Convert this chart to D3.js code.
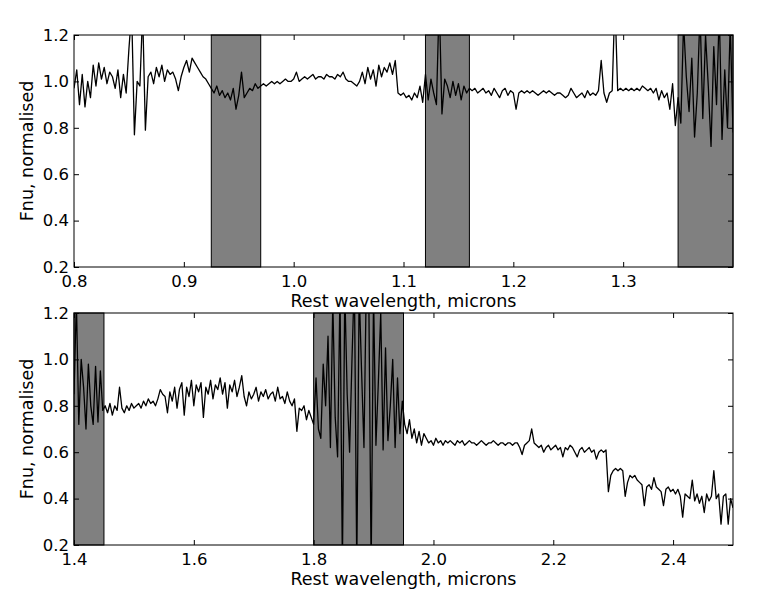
<!DOCTYPE html>
<html>
<head>
<meta charset="utf-8">
<script src="https://cdn.jsdelivr.net/npm/d3@7"></script>
<style>
body { margin: 0; background: #fff; }
text { font-family: "DejaVu Sans", sans-serif; }
</style>
</head>
<body>
<svg id="chart" width="770" height="607"></svg>
<script>
// spectrum values, on a regular wavelength grid
var topStart = 0.8, topStep = 0.0025;
var topFlux = [
0.97,1.05,0.90,1.03,0.89,1.00,0.93,1.07,0.98,1.08,
1.01,1.06,0.99,1.04,1.02,0.97,1.05,0.93,1.03,0.95,
1.14,1.30,0.77,1.00,0.98,1.30,0.79,1.02,1.04,0.99,
1.06,1.02,1.07,1.00,1.05,1.03,1.04,1.01,0.96,1.02,
1.06,1.09,1.04,1.10,1.08,1.06,1.04,1.02,1.01,0.99,
0.97,0.95,0.98,0.94,0.96,0.93,0.95,0.92,0.97,0.88,
0.94,1.04,0.93,0.95,0.97,0.96,0.99,0.97,0.98,0.99,
0.98,0.99,1.00,0.99,1.00,0.99,1.00,1.01,1.00,1.00,
1.01,1.04,1.00,1.01,1.02,1.01,1.02,1.03,1.01,1.02,
1.02,1.01,1.03,1.02,1.02,1.01,1.03,1.02,1.04,1.01,
1.00,1.00,0.99,0.98,1.00,1.04,0.99,1.06,1.01,1.05,
0.98,1.07,1.02,1.06,1.04,1.08,1.03,1.09,0.95,0.94,
0.95,0.93,0.94,0.92,0.95,0.93,0.98,0.91,1.03,0.92,
1.01,0.95,0.90,1.35,0.86,1.01,0.98,0.93,1.00,0.94,
0.99,0.92,0.98,0.95,0.97,0.96,0.97,0.95,0.96,0.97,
0.95,0.96,0.94,0.97,0.95,0.93,0.96,0.97,0.94,0.96,
0.95,0.88,0.95,0.96,0.95,0.96,0.95,0.96,0.95,0.94,
0.95,0.96,0.95,0.96,0.95,0.94,0.95,0.95,0.94,0.93,
0.94,0.97,0.95,0.93,0.94,0.95,0.93,0.96,0.94,0.95,
0.94,0.96,1.09,0.95,0.91,0.95,0.96,1.35,0.96,0.97,
0.96,0.97,0.96,0.97,0.96,0.97,0.96,0.98,0.97,0.96,
0.97,0.95,0.97,0.92,0.96,0.93,0.95,0.88,0.99,0.81,
0.93,0.82,1.25,1.02,0.87,1.10,0.76,0.95,1.30,0.84,
1.20,0.98,0.72,1.15,0.90,1.30,0.75,1.05,0.80,1.25,
0.78];

var bottomStart = 1.4, bottomStep = 0.004;
var bottomFlux = [
0.85,1.25,0.72,1.00,0.88,0.70,0.98,0.80,0.72,0.97,
0.73,0.95,0.78,0.80,0.77,0.81,0.76,0.80,0.78,0.88,
0.79,0.77,0.80,0.78,0.81,0.79,0.80,0.81,0.79,0.82,
0.80,0.83,0.81,0.82,0.80,0.83,0.87,0.85,0.84,0.77,
0.86,0.82,0.88,0.79,0.87,0.90,0.76,0.88,0.84,0.91,
0.80,0.89,0.86,0.90,0.75,0.88,0.85,0.91,0.83,0.89,
0.87,0.92,0.85,0.90,0.79,0.89,0.86,0.91,0.84,0.88,
0.93,0.84,0.80,0.86,0.83,0.85,0.88,0.82,0.86,0.84,
0.87,0.83,0.85,0.86,0.82,0.88,0.83,0.84,0.81,0.86,
0.82,0.80,0.83,0.69,0.79,0.78,0.80,0.74,0.78,0.75,
0.72,0.92,0.70,0.66,0.98,0.80,1.10,0.62,1.25,0.75,
0.58,1.30,0.10,1.30,0.85,0.60,1.00,1.35,0.10,1.30,
0.95,0.62,1.35,1.30,0.10,1.28,0.63,0.90,1.20,0.61,
1.05,0.65,0.80,1.00,0.62,0.92,0.68,0.82,0.72,0.68,
0.74,0.66,0.70,0.64,0.69,0.63,0.68,0.66,0.64,0.65,
0.63,0.66,0.64,0.65,0.63,0.65,0.64,0.65,0.64,0.63,
0.65,0.64,0.65,0.63,0.64,0.65,0.64,0.64,0.63,0.64,
0.65,0.64,0.63,0.64,0.64,0.65,0.64,0.63,0.64,0.64,
0.63,0.64,0.64,0.63,0.64,0.64,0.62,0.59,0.63,0.64,
0.65,0.70,0.64,0.63,0.62,0.63,0.60,0.62,0.63,0.61,
0.62,0.63,0.61,0.62,0.58,0.62,0.61,0.63,0.62,0.60,
0.58,0.61,0.62,0.60,0.61,0.62,0.60,0.61,0.57,0.60,
0.61,0.60,0.61,0.43,0.50,0.52,0.53,0.52,0.53,0.52,
0.41,0.47,0.50,0.49,0.50,0.48,0.47,0.46,0.37,0.45,
0.46,0.44,0.49,0.45,0.44,0.43,0.37,0.44,0.45,0.43,
0.44,0.42,0.44,0.41,0.32,0.42,0.41,0.40,0.48,0.39,
0.42,0.38,0.41,0.34,0.42,0.39,0.41,0.52,0.40,0.42,
0.29,0.41,0.42,0.29,0.40,0.36];

// shaded (telluric) regions, microns
var topBands = [[0.925, 0.97], [1.12, 1.16], [1.35, 1.4]];
var bottomBands = [[1.4, 1.45], [1.8, 1.95]];

var topXTicks = [0.8, 0.9, 1.0, 1.1, 1.2, 1.3];
var bottomXTicks = [1.4, 1.6, 1.8, 2.0, 2.2, 2.4];
var yTicks = [0.2, 0.4, 0.6, 0.8, 1.0, 1.2];

var xLabel = "Rest wavelength, microns";
var yLabel = "Fnu, normalised";

var left = 74, right = 733;
var svg = d3.select("#chart");

function drawPanel(id, top, bottom, start, step, flux, xDomain, xTicks, bands) {
  var data = flux.map((f, i) => ({w: start + i * step, f: f}));

  var x = d3.scaleLinear().domain(xDomain).range([left, right]);
  var y = d3.scaleLinear().domain([0.2, 1.2]).range([bottom, top]);

  svg.append("clipPath").attr("id", "clip" + id)
    .append("rect")
    .attr("x", left).attr("y", top)
    .attr("width", right - left).attr("height", bottom - top);

  var g = svg.append("g");

  g.selectAll("rect.band")
    .data(bands)
    .join("rect")
    .attr("class", "band")
    .attr("x", d => x(d[0]))
    .attr("y", top)
    .attr("width", d => x(d[1]) - x(d[0]))
    .attr("height", bottom - top)
    .attr("fill", "#808080")
    .attr("stroke", "#000")
    .attr("stroke-width", 1);

  var line = d3.line().x(d => x(d.w)).y(d => y(d.f));

  g.append("path")
    .datum(data)
    .attr("clip-path", "url(#clip" + id + ")")
    .attr("fill", "none")
    .attr("stroke", "#000")
    .attr("stroke-width", 1.3)
    .attr("stroke-linejoin", "round")
    .attr("d", line);

  // matplotlib style: ticks point inwards on all four sides
  g.append("g")
    .attr("transform", `translate(0,${bottom})`)
    .call(d3.axisBottom(x).tickValues(xTicks).tickFormat(d3.format(".1f"))
      .tickSizeInner(-5).tickSizeOuter(0).tickPadding(8))
    .call(a => a.select(".domain").remove());

  g.append("g")
    .attr("transform", `translate(0,${top})`)
    .call(d3.axisTop(x).tickValues(xTicks).tickFormat("")
      .tickSizeInner(-5).tickSizeOuter(0))
    .call(a => a.select(".domain").remove());

  g.append("g")
    .attr("transform", `translate(${left},0)`)
    .call(d3.axisLeft(y).tickValues(yTicks).tickFormat(d3.format(".1f"))
      .tickSizeInner(-5).tickSizeOuter(0).tickPadding(5))
    .call(a => a.select(".domain").remove());

  g.append("g")
    .attr("transform", `translate(${right},0)`)
    .call(d3.axisRight(y).tickValues(yTicks).tickFormat("")
      .tickSizeInner(-5).tickSizeOuter(0))
    .call(a => a.select(".domain").remove());

  g.selectAll(".tick text")
    .attr("font-size", 16.5)
    .attr("font-family", "DejaVu Sans")
    .attr("fill", "#000");

  g.append("rect")
    .attr("x", left).attr("y", top)
    .attr("width", right - left).attr("height", bottom - top)
    .attr("fill", "none")
    .attr("stroke", "#000")
    .attr("stroke-width", 1);

  g.append("text")
    .attr("x", (left + right) / 2)
    .attr("y", bottom + 40)
    .attr("text-anchor", "middle")
    .attr("font-size", 17.5)
    .text(xLabel);

  g.append("text")
    .attr("transform", `translate(33,${(top + bottom) / 2}) rotate(-90)`)
    .attr("text-anchor", "middle")
    .attr("font-size", 17.5)
    .text(yLabel);
}

drawPanel("top", 35, 267, topStart, topStep, topFlux, [0.8, 1.4], topXTicks, topBands);
drawPanel("bottom", 313, 545, bottomStart, bottomStep, bottomFlux, [1.4, 2.5], bottomXTicks, bottomBands);
</script>
</body>
</html>
